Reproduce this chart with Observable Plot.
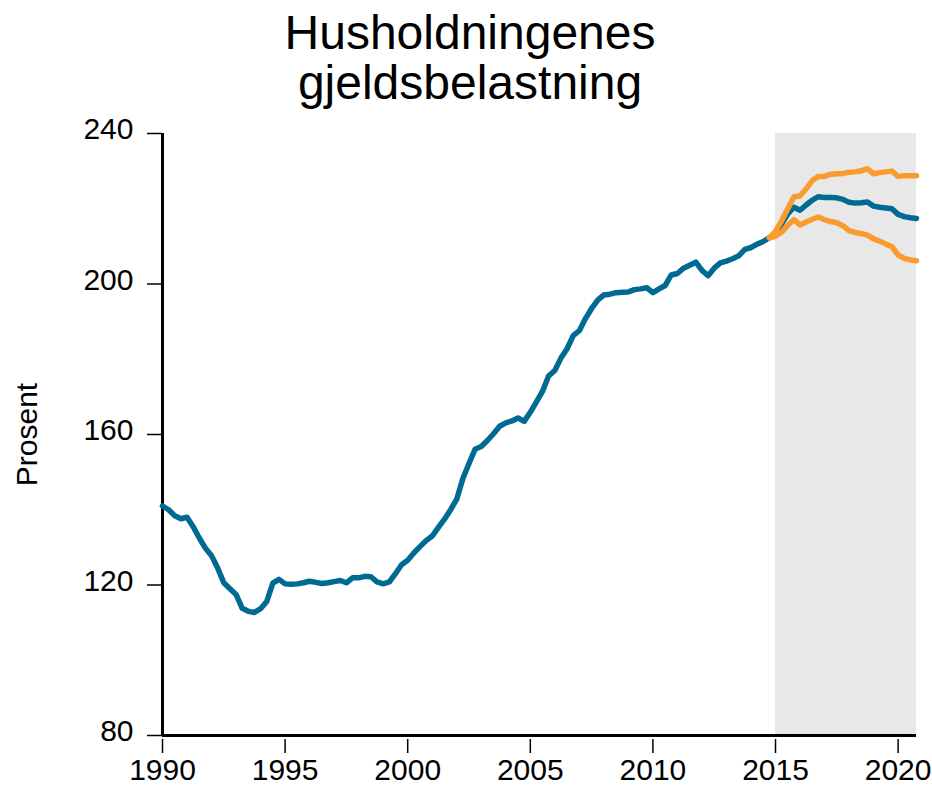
<!DOCTYPE html>
<html><head><meta charset="utf-8">
<script src="https://cdn.jsdelivr.net/npm/d3@7"></script>
<script src="https://cdn.jsdelivr.net/npm/@observablehq/plot@0.6"></script>
<style>
body{margin:0;background:#fff;font-family:"Liberation Sans",Arial,sans-serif;}
#title{height:110px;box-sizing:border-box;padding-top:8px;padding-left:8px;width:932px;text-align:center;font-size:48px;line-height:50px;color:#000;overflow:visible;}
#chart svg{display:block;}
</style></head><body>
<div id="title">Husholdningenes<br>gjeldsbelastning</div>
<div id="chart"></div>
<script>
// Quarterly data, first observation 1990 Q1
const startYear = 1990;
const history = [
141.0,140.0,138.4,137.6,138.0,135.5,132.5,129.8,127.8,124.5,
120.6,119.0,117.5,113.8,113.0,112.7,113.7,115.6,120.5,121.5,
120.3,120.2,120.3,120.6,121.0,120.7,120.4,120.6,120.9,121.2,
120.6,121.9,121.9,122.3,122.2,120.8,120.3,120.8,123.0,125.4,
126.6,128.5,130.2,131.8,133.0,135.3,137.5,140.0,142.8,148.3,
152.3,156.1,156.8,158.4,160.2,162.2,163.1,163.6,164.4,163.5,
165.9,168.7,171.5,175.6,177.0,180.3,182.8,186.3,187.6,190.8,
193.5,195.7,197.1,197.3,197.7,197.8,197.9,198.5,198.7,199.0,
197.7,198.7,199.6,202.4,202.8,204.2,205.0,205.8,203.6,202.2,
204.2,205.6,206.1,206.7,207.5,209.2,209.7,210.6,211.3,212.3
];
// Projections, first value 2014 Q4
const projStart = 2014.75;
const projBase = [
212.3,213.5,216.0,218.6,220.4,219.6,221.0,222.3,223.2,223.0,
223.0,222.9,222.5,221.7,221.5,221.6,221.8,220.7,220.4,220.2,
220.0,218.5,217.9,217.6,217.4
];
const projHigh = [
212.3,214.0,216.8,220.0,223.2,223.4,225.3,227.5,228.6,228.6,
229.2,229.3,229.4,229.7,229.8,230.1,230.6,229.3,229.6,229.8,
230.0,228.6,228.8,228.8,228.8
];
const projLow = [
212.3,212.7,213.8,215.6,217.1,215.7,216.5,217.2,217.8,217.1,
216.6,216.3,215.5,214.2,213.7,213.4,213.0,212.0,211.4,210.6,
209.9,207.7,206.8,206.4,206.2
];
const shade = [{from: 2015, to: 2020.75}];
const xTicks = [1990, 1995, 2000, 2005, 2010, 2015, 2020];
const yTicks = [80, 120, 160, 200, 240];

const blue = "#006a93";
const orange = "#f99b2f";

const toRows = (arr, start) => arr.map((v, i) => ({date: start + i / 4, value: v}));
const histRows = toRows(history, startYear);
const baseRows = toRows(projBase, projStart);
const highRows = toRows(projHigh, projStart);
const lowRows = toRows(projLow, projStart);

const font = '"Liberation Sans", Arial, sans-serif';

const chart = Plot.plot({
  width: 932,
  height: 676,
  marginTop: 23,
  marginBottom: 51,
  marginLeft: 162,
  marginRight: 16,
  style: {fontFamily: font, fontSize: "30px", color: "#000", background: "#fff", overflow: "visible"},
  x: {domain: [1990, 2020.75]},
  y: {domain: [80, 240]},
  marks: [
    Plot.rect(shade, {x1: "from", x2: "to", fill: "#e8e8e8"}),
    Plot.axisY({ticks: yTicks, tickSize: 15, fill: "none", label: null, strokeWidth: 1.5}),
    Plot.axisY({ticks: yTicks, tickSize: 0, tickPadding: 29, dy: -4, fontSize: 30, fill: "#000",
      label: "Prosent", labelArrow: false, labelAnchor: "center", labelOffset: 147}),
    Plot.axisX({ticks: xTicks, tickFormat: "d", tickSize: 14, tickPadding: 5, dy: 4, fontSize: 30,
      strokeWidth: 1.5, label: null}),
    Plot.ruleY([yTicks[0]], {stroke: "#000", strokeWidth: 3}),
    Plot.ruleX([xTicks[0]], {stroke: "#000", strokeWidth: 3}),
    Plot.line(histRows, {x: "date", y: "value", stroke: blue, strokeWidth: 5.5, strokeLinejoin: "round"}),
    Plot.line(baseRows, {x: "date", y: "value", stroke: blue, strokeWidth: 5.5, strokeLinejoin: "round"}),
    Plot.line(highRows, {x: "date", y: "value", stroke: orange, strokeWidth: 5.5, strokeLinejoin: "round"}),
    Plot.line(lowRows, {x: "date", y: "value", stroke: orange, strokeWidth: 5.5, strokeLinejoin: "round"})
  ]
});
document.getElementById("chart").appendChild(chart);
</script>
</body></html>
